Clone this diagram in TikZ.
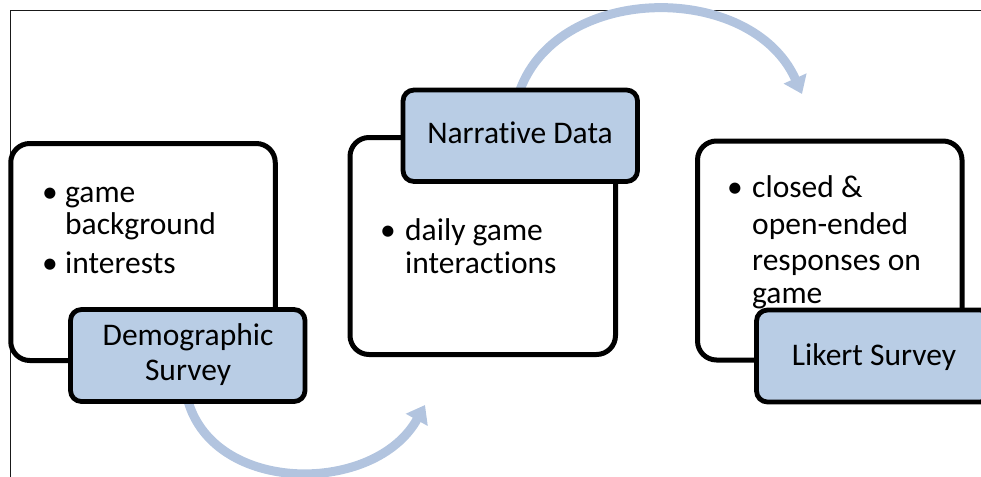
\documentclass[tikz,border=0pt]{standalone}
\usepackage{fontspec}
\setmainfont{Carlito}[Ligatures={NoCommon}]
\usetikzlibrary{arrows.meta}
\definecolor{tagblue}{RGB}{185,205,229}
\definecolor{flowblue}{RGB}{178,196,223}
\definecolor{framegray}{RGB}{25,25,25}
\begin{document}
\begin{tikzpicture}[x=1pt,y=-1pt,
  card/.style={rectangle, draw=black, line width=5pt, rounded corners=19pt, fill=white, inner sep=0pt},
  tag/.style={rectangle, draw=black, line width=4.8pt, rounded corners=11pt, fill=tagblue, inner sep=0pt},
  flow/.style={draw=flowblue, line width=9pt, -{Triangle[width=24pt,length=17pt]}},
  body/.style={font=\fontsize{31.5}{32}\selectfont, inner sep=0pt, anchor=base west},
  lbl/.style={font=\fontsize{31.5}{32}\selectfont, inner sep=0pt, anchor=base},
]
\useasboundingbox (0,0) rectangle (981,476);
\clip (0,0) rectangle (981,476);

% outer frame
\draw[framegray, line width=1.8pt] (10.5,500) -- (10.5,10.5) -- (1000,10.5);

% white cards
\node[card, minimum width=264.5pt, minimum height=217pt] (c1) at (143,252) {};
\node[card, minimum width=265.5pt, minimum height=217pt] (c2) at (482.75,246) {};
\node[card, minimum width=264.5pt, minimum height=219pt] (c3) at (829.75,250.5) {};

% curved flow arrows
\coordinate (tipA) at (425,405);
\coordinate (tipB) at (802,94);
\draw[flow] (188,401) .. controls (215,495) and (375,495) .. (tipA);
\draw[flow] (520,90) .. controls (560,-18) and (752,-18) .. (tipB);

% blue tags
\node[tag, minimum width=234.5pt, minimum height=92pt] (demo) at (187.75,355.5) {};
\node[tag, minimum width=234.5pt, minimum height=91.5pt] (narr) at (520.25,135.75) {};
\node[tag, minimum width=234.5pt, minimum height=92pt] (lik) at (873.75,356) {};

% tag labels
\node[lbl] (demoA) at (188,345) {Demographic};
\node[lbl] (demoB) at (188,380) {Survey};
\node[lbl] (narrA) at (520,143) {Narrative Data};
\node[lbl] (likA) at (874,365) {Likert Survey};

% card 1 bullets
\node[body] (b1a) at (42,202) {\textbullet};
\node[body] (t1a) at (65,202) {game};
\node[body] (t1b) at (65,234) {background};
\node[body] (b1b) at (42,273) {\textbullet};
\node[body] (t1c) at (65,273) {interests};

% card 2 bullets
\node[body] (b2a) at (380,240) {\textbullet};
\node[body] (t2a) at (405,240) {daily game};
\node[body] (t2b) at (405,273) {interactions};

% card 3 bullets
\node[body] (b3a) at (727,197) {\textbullet};
\node[body] (t3a) at (752,197) {closed \&};
\node[body] (t3b) at (752,234) {open-ended};
\node[body] (t3c) at (752,270) {responses on};
\node[body] (t3d) at (752,303) {game};
\end{tikzpicture}
\end{document}
